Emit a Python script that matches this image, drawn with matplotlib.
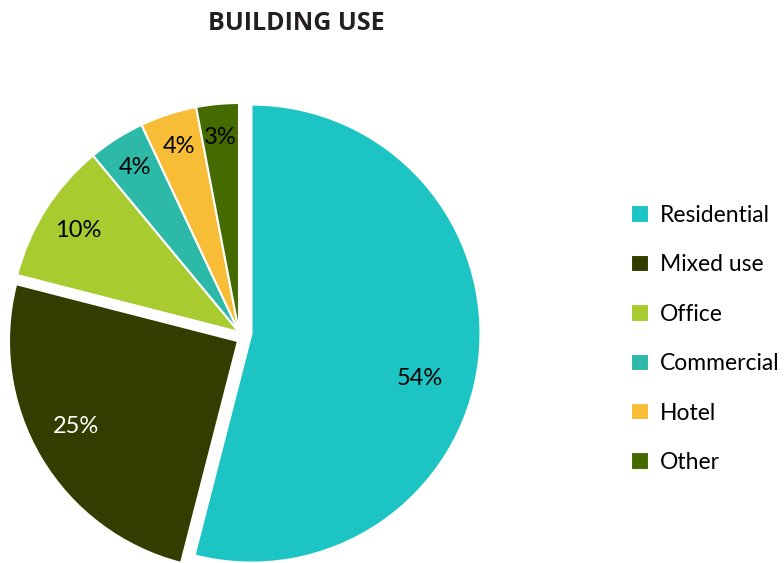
import numpy as np
import matplotlib
matplotlib.use("Agg")
import matplotlib.pyplot as plt

categories = ["Residential", "Mixed use", "Office", "Commercial", "Hotel", "Other"]
shares = [54, 25, 10, 4, 4, 3]
colors = ["#1DC4C4", "#333D00", "#A8CC30", "#2CB9A8", "#F8BD36", "#456A00"]
label_colors = ["black", "white", "black", "black", "black", "black"]

plt.rcParams["font.family"] = ["Lato", "DejaVu Sans"]

fig = plt.figure(figsize=(7.84, 5.63), dpi=100)

# pie centre at about (239, 332) px, radius 229 px
R = 229
cx, cy = 239, 563 - 332
half = 1.2 * R
ax = fig.add_axes([(cx - half) / 784, (cy - half) / 563,
                   2 * half / 784, 2 * half / 563])

wedges, texts, autotexts = ax.pie(
    shares, colors=colors, startangle=90, counterclock=False,
    autopct="%d%%", wedgeprops=dict(edgecolor="white", linewidth=1.5),
    textprops=dict(fontsize=17))

# pull the two big slices apart: residential along its middle,
# mixed use down along its edge with residential
shift = {0: (0.055, None), 1: (0.04, wedges[1].theta2 + 8)}
label_dist = [0.76, 0.80, 0.83, 0.85, 0.85, 0.855]
label_turn = [-7.6, -2.8, 0, 0, 0, 0]
for i, w in enumerate(wedges):
    mid = 0.5 * (w.theta1 + w.theta2)
    if i in shift:
        d, a = shift[i]
        a = mid if a is None else a
        w.set_center((d * np.cos(np.deg2rad(a)), d * np.sin(np.deg2rad(a))))
    x0, y0 = w.center
    la = np.deg2rad(mid + label_turn[i])
    autotexts[i].set_position((x0 + label_dist[i] * np.cos(la),
                               y0 + label_dist[i] * np.sin(la)))
    autotexts[i].set_color(label_colors[i])

ax.set_xlim(-1.2, 1.2)
ax.set_ylim(-1.2, 1.2)
ax.set_aspect("equal")
ax.axis("off")

fig.text(296 / 784, 1 - 24 / 563, "BUILDING USE", ha="center", va="center",
         fontsize=18, fontweight="bold", family=["Open Sans", "DejaVu Sans"],
         color="#231F20")

fig.legend(wedges, categories, loc="upper left",
           bbox_to_anchor=(631 / 784, 1 - 205 / 563),
           frameon=False, fontsize=16.5, handlelength=0.79, handleheight=0.79,
           handletextpad=0.48, labelspacing=1.24, borderaxespad=0, borderpad=0)

fig.savefig("out.png", dpi=100)
